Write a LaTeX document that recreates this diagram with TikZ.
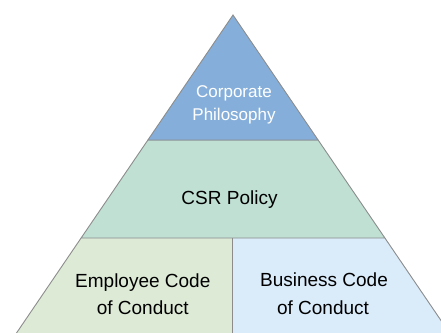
\documentclass[tikz,border=0pt]{standalone}
\usepackage{fontspec}
\setmainfont{Liberation Sans}
\definecolor{topblue}{HTML}{85AFDA}
\definecolor{midgreen}{HTML}{C0E0D4}
\definecolor{lowgreen}{HTML}{DDEAD6}
\definecolor{lowblue}{HTML}{DAEBFA}
\definecolor{edgegray}{HTML}{8C8C8C}
\begin{document}
\begin{tikzpicture}[x=1pt,y=-1pt,
  band/.style={draw=edgegray,line width=0.9pt,line join=miter},
  bigtxt/.style={anchor=base,inner sep=0pt,font=\fontsize{19}{23}\selectfont,text=black},
  toptxt/.style={anchor=base,inner sep=0pt,font=\fontsize{17}{21}\selectfont,text=white}]
\useasboundingbox (0,0) rectangle (441,332);
\clip (0,0) rectangle (441,332);
% apex (233,15), slope 0.681
\coordinate (apex) at (233,15);
\coordinate (l1) at (147.9,140);
\coordinate (r1) at (318.1,140);
\coordinate (l2) at (81.1,238);
\coordinate (r2) at (384.9,238);
\coordinate (l3) at (9.7,343);
\coordinate (r3) at (456.3,343);
\coordinate (d2) at (232,238);
\coordinate (d3) at (232,343);
\fill[lowgreen] (l2) -- (d2) -- (d3) -- (l3) -- cycle;
\fill[lowblue] (d2) -- (r2) -- (r3) -- (d3) -- cycle;
\draw[band,fill=midgreen] (l1) -- (r1) -- (r2) -- (l2) -- cycle;
\draw[band,fill=topblue] (apex) -- (r1) -- (l1) -- cycle;
\draw[band] (l2) -- (l3);
\draw[band] (r2) -- (r3);
\draw[band] (d2) -- (d3);
\node[toptxt] (cp1) at (234,97.7) {Corporate};
\node[toptxt] (cp2) at (234,120) {Philosophy};
\node[bigtxt] (csr) at (229.5,204) {CSR Policy};
\node[bigtxt] (ec1) at (142.8,287.3) {Employee Code};
\node[bigtxt] (ec2) at (142.8,314) {of Conduct};
\node[bigtxt] (bc1) at (324,286.7) {Business Code};
\node[bigtxt] (bc2) at (323,314) {of Conduct};
\end{tikzpicture}
\end{document}
